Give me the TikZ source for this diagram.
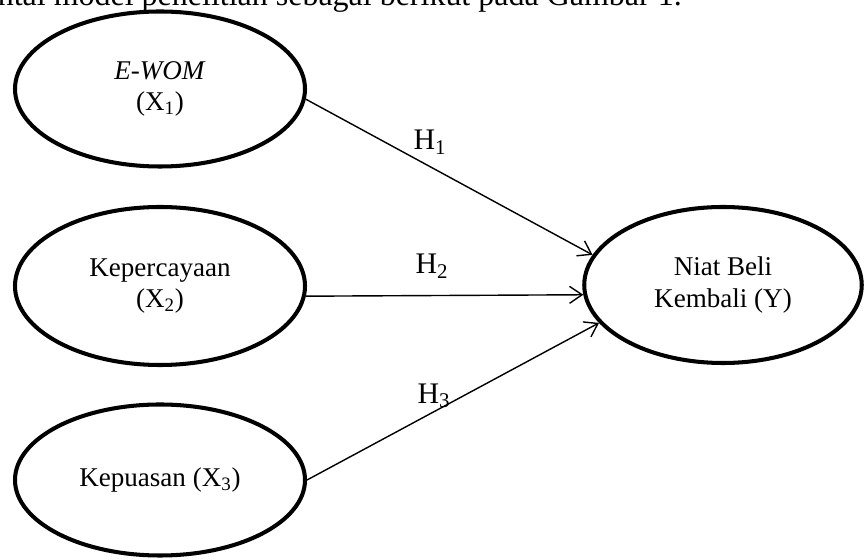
\documentclass[tikz,border=0pt]{standalone}
\usepackage{fontspec}
\setmainfont{Liberation Serif}
\usetikzlibrary{arrows.meta,positioning,shapes.geometric}
\tikzset{
  latent/.style={draw, ellipse, line width=2.3pt, align=center, inner sep=0pt,
                 minimum width=5.8cm, minimum height=3.1cm,
                 font=\fontsize{15.4}{18}\selectfont},
  arr/.style={-{Straight Barb[length=2.5mm, width=3.4mm]}, line width=0.8pt},
  lab/.style={font=\fontsize{17}{20}\selectfont, inner sep=0pt},
}
\begin{document}
\begin{tikzpicture}
    \clip (0,0) rectangle (17.34,11.2);
    \node[anchor=base east, inner sep=0pt, font=\fontsize{18.2}{21}\selectfont] (cap) at (13.64,11.08) {ntai model penelitian sebagai berikut pada Gambar 1.};
    \node[latent] (ewom) at (3.2,9.42) {\textit{E-WOM}\\(X\textsubscript{1})};
    \node[latent, minimum height=3.16cm] (trust) at (3.2,5.48) {Kepercayaan\\(X\textsubscript{2})};
    \node[latent, minimum height=3.02cm] (sat) at (3.2,1.6) {Kepuasan (X\textsubscript{3})};
    \node[latent, minimum width=5.55cm, minimum height=3.12cm] (niat) at (14.46,5.5) {Niat Beli\\Kembali (Y)};
    \draw[arr] (ewom.-4) -- (niat.167);
    \draw[arr] (trust.-4) -- (niat.184);
    \draw[arr] (sat.east) -- (niat.197);
    \node[lab] (h1) at (8.6,8.36) {H\textsubscript{1}};
    \node[lab] (h2) at (8.64,5.88) {H\textsubscript{2}};
    \node[lab] (h3) at (8.68,3.28) {H\textsubscript{3}};
  \end{tikzpicture}
\end{document}
